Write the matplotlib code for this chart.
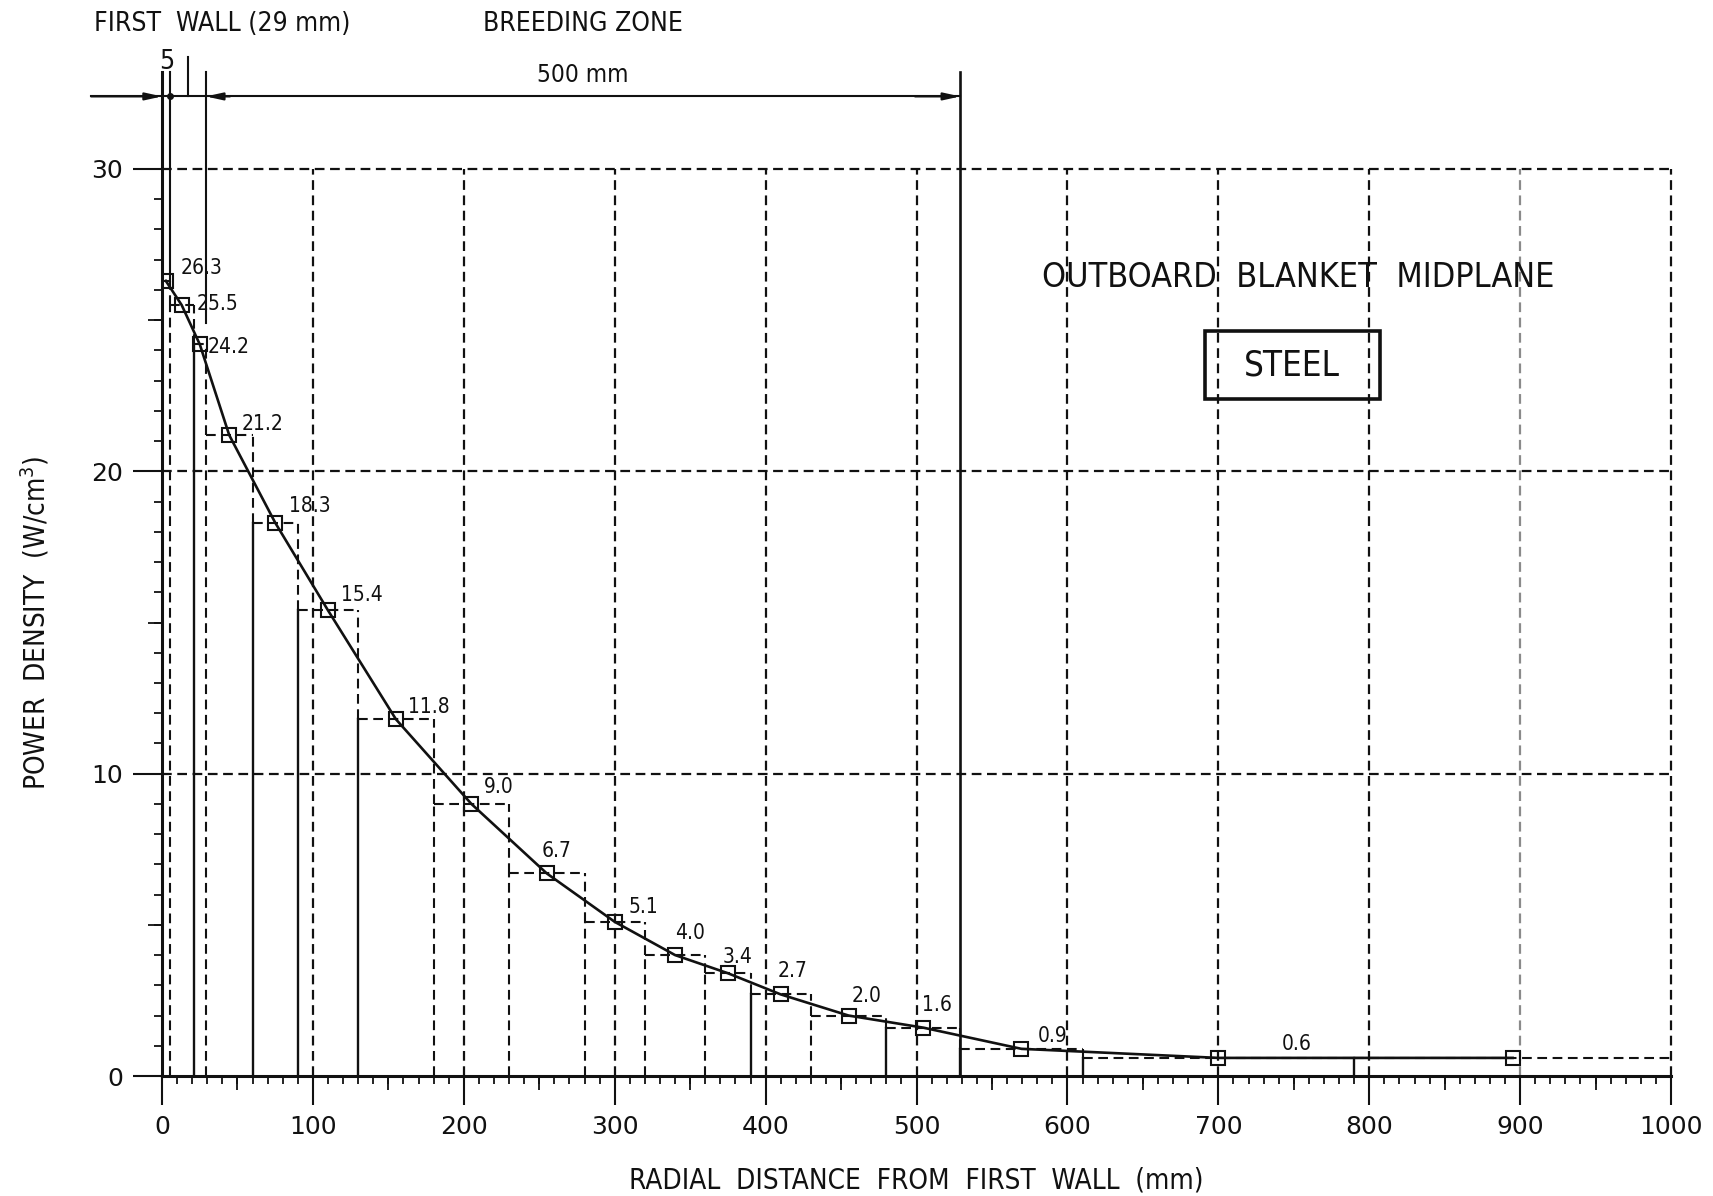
import numpy as np
import matplotlib.pyplot as plt
from matplotlib.patches import Rectangle

# ----------------------------
# Datos
# ----------------------------
bin_edges = [0, 5, 21, 29, 60, 90, 130, 180, 230, 280, 320, 360, 390,
             430, 480, 529, 610, 790, 1000]
power_density = [26.3, 25.5, 24.2, 21.2, 18.3, 15.4, 11.8, 9.0, 6.7, 5.1,
                 4.0, 3.4, 2.7, 2.0, 1.6, 0.9, 0.6, 0.6]
value_labels = ['26.3', '25.5', '24.2', '21.2', '18.3', '15.4', '11.8', '9.0',
                '6.7', '5.1', '4.0', '3.4', '2.7', '2.0', '1.6', '0.9', '0.6', '']
x_ticks = [0, 100, 200, 300, 400, 500, 600, 700, 800, 900, 1000]
y_ticks = [0, 10, 20, 30]
first_wall_mm = 29
breeding_zone_mm = 500

# ----------------------------
# Estilo
# ----------------------------
plt.rcParams['lines.scale_dashes'] = False
plt.rcParams['font.family'] = ['DejaVu Sans']
plt.rcParams['font.stretch'] = 'condensed'
ink = '#111111'
dash = (0, (7, 4))

# bordes interiores: parte inferior continua (True) o discontinua (False)
edge_solid = [False, True, False, True, True, True, False, False, False,
              False, False, True, False, True, True, True, True]
# desplazamiento de cada etiqueta respecto al punto (pt)
label_offsets = [(11, 9), (11, 1), (6, -2), (9, 8), (10, 12), (9, 11),
                 (9, 9), (9, 12), (-4, 16), (10, 11), (0, 16), (-4, 12),
                 (-2, 17), (2, 14), (-1, 16), (12, 9), (46, 10), None]

x_mid = [(a + b) / 2 for a, b in zip(bin_edges[:-1], bin_edges[1:])]

fig = plt.figure(figsize=(17.13, 11.96), dpi=100)
ax = fig.add_axes([0.0946, 0.1003, 0.8809, 0.7584])
ax.set_xlim(0, 1000)
ax.set_ylim(0, 30)

# ----------------------------
# Rejilla discontinua
# ----------------------------
for y in y_ticks[1:]:
    ax.plot([0, 1000], [y, y], color=ink, lw=1.6, ls=dash, clip_on=False)
for x in x_ticks[1:]:
    col = '#8a8a8a' if x == 900 else ink
    ax.plot([x, x], [0, 30], color=col, lw=1.6, ls=dash, clip_on=False)

# ----------------------------
# Histograma escalonado
# ----------------------------
for i, h in enumerate(power_density):
    ax.plot([bin_edges[i], bin_edges[i + 1]], [h, h], color=ink, lw=1.5, ls=dash)
for j, e in enumerate(bin_edges[1:-1]):
    hi, lo = power_density[j], power_density[j + 1]
    if hi > lo:
        ax.plot([e, e], [lo, hi], color=ink, lw=1.5, ls=dash)
    ax.plot([e, e], [0, lo], color=ink, lw=1.7 if edge_solid[j] else 1.5,
            ls='-' if edge_solid[j] else dash)

# Curva y puntos
ax.plot(x_mid, power_density, color=ink, lw=1.9, marker='s', ms=9.5,
        mfc='none', mec=ink, mew=1.5, zorder=5)
for x, y, lbl, off in zip(x_mid, power_density, value_labels, label_offsets):
    if off is None:
        continue
    ax.annotate(lbl, (x, y), xytext=off, textcoords='offset points',
                ha='left', va='center', fontsize=15, color=ink)

# ----------------------------
# Cotas superiores (primera pared / zona reproductora)
# ----------------------------
y_dim = 32.4
y_top = 33.2
bz_end = first_wall_mm + breeding_zone_mm
ax.plot([0, 0], [0, y_top], color=ink, lw=2.2, clip_on=False)
ax.plot([5, 5], [power_density[0], y_top], color=ink, lw=1.5, clip_on=False)
ax.plot([first_wall_mm] * 2, [24.9, y_top], color=ink, lw=1.5, clip_on=False)
ax.plot([bz_end] * 2, [0, y_top], color=ink, lw=1.9, clip_on=False)
ax.plot([17, 17], [y_dim, 33.7], color=ink, lw=1.5, clip_on=False)
ax.plot([-47, bz_end], [y_dim, y_dim], color=ink, lw=1.5, clip_on=False)
ax.plot([5], [y_dim], 'o', color=ink, ms=4, clip_on=False)
arrow = dict(arrowstyle='-|>,head_length=1.0,head_width=0.22', color=ink,
             lw=1.5, shrinkA=0, shrinkB=0)
ax.annotate('', xy=(0, y_dim), xytext=(-47, y_dim), arrowprops=arrow,
            annotation_clip=False)
ax.annotate('', xy=(first_wall_mm, y_dim), xytext=(45, y_dim),
            arrowprops=arrow, annotation_clip=False)
ax.annotate('', xy=(bz_end, y_dim), xytext=(bz_end - 30, y_dim),
            arrowprops=arrow, annotation_clip=False)

ax.text(40, 34.8, f'FIRST  WALL ({first_wall_mm} mm)', ha='center', va='center',
        fontsize=19, color=ink, clip_on=False)
ax.text(278.6, 34.8, 'BREEDING ZONE', ha='center', va='center',
        fontsize=19, color=ink, clip_on=False)
ax.text(278.6, 33.1, f'{breeding_zone_mm} mm', ha='center', va='center',
        fontsize=17.5, color=ink, clip_on=False)
ax.text(3, 33.55, '5', ha='center', va='center', fontsize=19, color=ink,
        clip_on=False)

# ----------------------------
# Títulos internos
# ----------------------------
ax.text(753, 26.4, 'OUTBOARD  BLANKET  MIDPLANE', ha='center', va='center',
        fontsize=24.5, color=ink)
ax.add_patch(Rectangle((691, 22.4), 116, 2.25, fill=False, ec=ink, lw=2.6))
ax.text(749, 23.5, 'STEEL', ha='center', va='center', fontsize=25, color=ink)

# ----------------------------
# Ejes y marcas
# ----------------------------
for s in ['top', 'right', 'left']:
    ax.spines[s].set_visible(False)
ax.spines['bottom'].set_linewidth(2.2)
ax.spines['bottom'].set_color(ink)

ax.set_xticks(x_ticks)
ax.set_xticklabels([str(t) for t in x_ticks])
ax.set_xticks(np.arange(0, 1001, 10), minor=True)
ax.set_yticks(y_ticks)
ax.set_yticklabels([str(t) for t in y_ticks])
ax.set_yticks(np.arange(0, 31, 1), minor=True)
ax.tick_params(which='major', length=21, width=1.5, direction='out',
               color=ink, labelsize=18, pad=7, labelcolor=ink)
ax.tick_params(which='minor', length=6, width=1.3, direction='out', color=ink)
for lab in ax.get_xticklabels() + ax.get_yticklabels():
    lab.set_stretch('normal')

secx = ax.secondary_xaxis('bottom')
secx.set_xticks(np.arange(50, 1000, 100))
secx.tick_params(length=10, width=1.3, color=ink, labelbottom=False)
secx.spines['bottom'].set_visible(False)
secy = ax.secondary_yaxis('left')
secy.set_yticks([5, 15, 25])
secy.tick_params(length=10, width=1.3, color=ink, labelleft=False)
secy.spines['left'].set_visible(False)

ax.set_xlabel('RADIAL  DISTANCE  FROM  FIRST  WALL  (mm)', fontsize=20,
              color=ink, va='center')
ax.xaxis.set_label_coords(0.5, -0.1147)
ax.set_ylabel('POWER  DENSITY  (W/cm$^{3}$)', fontsize=20, color=ink,
              va='center')
ax.yaxis.set_label_coords(-0.0842, 0.4995)

plt.savefig('out.png', dpi=100)
plt.close()
